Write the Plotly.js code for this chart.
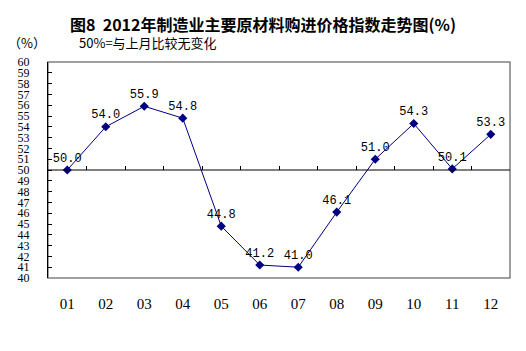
<!DOCTYPE html>
<html>
<head>
<meta charset="utf-8">
<script src="https://cdn.plot.ly/plotly-3.0.1.min.js"></script>
<style>html,body{margin:0;padding:0;background:#fff;}#chart{width:526px;height:351px;}</style>
</head>
<body>
<div id="chart"></div>
<script>
var months = ['01','02','03','04','05','06','07','08','09','10','11','12'];
var values = [50.0, 54.0, 55.9, 54.8, 44.8, 41.2, 41.0, 46.1, 51.0, 54.3, 50.1, 53.3];
var yTicks = [40,41,42,43,44,45,46,47,48,49,50,51,52,53,54,55,56,57,58,59,60];
var baseline = 50;

var xIdx = months.map(function(m, i){ return i + 1; });
var boundaries = months.slice(1).map(function(m, i){ return i + 1.5; });

var trace = {
  x: xIdx, y: values, type: 'scatter', mode: 'lines+markers+text',
  line: {color: '#000080', width: 1},
  marker: {symbol: 'diamond', size: 7, color: '#000080'},
  text: values.map(function(v){ return v.toFixed(1); }),
  textposition: 'top center',
  textfont: {family: 'Liberation Mono, monospace', size: 12, color: '#000000'},
  cliponaxis: false, hoverinfo: 'none', showlegend: false
};
var trace2 = {x: [0.5, 12.5], y: [baseline, baseline], xaxis: 'x2', yaxis: 'y', mode: 'lines',
  line: {color: '#000000', width: 1}, hoverinfo: 'none', showlegend: false};

var layout = {
  width: 526, height: 351,
  margin: {l: 48, r: 16, t: 62, b: 73},
  paper_bgcolor: '#ffffff', plot_bgcolor: '#ffffff',
  title: {text: '<b>图8  2012年制造业主要原材料购进价格指数走势图(%)</b>',
    font: {family: 'Noto Sans CJK SC', size: 16, color: '#000000'},
    x: 0.5, xanchor: 'center', y: 0.928, yanchor: 'middle'},
  xaxis: {range: [0.5, 12.5], tickvals: xIdx, ticktext: months,
    showgrid: false, zeroline: false, showline: false,
    ticks: 'outside', ticklen: 12, tickcolor: 'rgba(0,0,0,0)',
    tickfont: {family: 'Liberation Serif', size: 15, color: '#000000'}, fixedrange: true},
  xaxis2: {range: [0.5, 12.5], overlaying: 'x', anchor: 'free', position: 0.5, side: 'top',
    tickvals: boundaries, ticks: 'outside', ticklen: 4, tickcolor: '#000000', tickwidth: 1,
    showticklabels: false, showgrid: false, zeroline: false, showline: false},
  yaxis: {range: [40, 60], tickvals: yTicks, ticktext: yTicks.map(String),
    showgrid: false, zeroline: false, showline: true, linecolor: '#000000', linewidth: 1,
    ticks: 'inside', ticklen: 4, tickcolor: '#000000',
    ticklabelstandoff: 15,
    tickfont: {family: 'Liberation Serif', size: 12, color: '#000000'}, fixedrange: true},
  shapes: [
    {type: 'rect', xref: 'paper', yref: 'paper', x0: 0, x1: 1, y0: 0, y1: 1,
     line: {color: '#808080', width: 1.5}, layer: 'below'}
  ],
  annotations: [
    {text: '（%）', xref: 'paper', yref: 'paper', x: -0.09, y: 1.09, xanchor: 'left', yanchor: 'middle',
     showarrow: false, font: {family: 'Noto Sans CJK SC', size: 13, color: '#000000'}},
    {text: '50%=与上月比较无变化', xref: 'paper', yref: 'paper', x: 0.063, y: 1.09, xanchor: 'left', yanchor: 'middle',
     showarrow: false, font: {family: 'Noto Sans CJK SC', size: 13, color: '#000000'}}
  ]
};
Plotly.newPlot('chart', [trace2, trace], layout, {staticPlot: true, displayModeBar: false});
</script>
</body>
</html>
